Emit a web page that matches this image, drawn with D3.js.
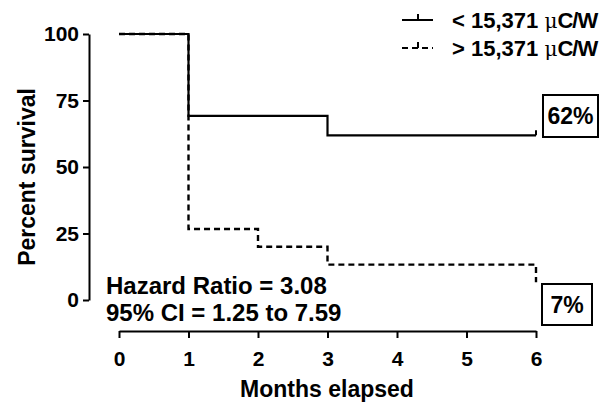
<!DOCTYPE html>
<html>
<head>
<meta charset="utf-8">
<script src="https://cdn.jsdelivr.net/npm/d3@7"></script>
<style>
  body { margin: 0; background: #fff; }
  svg text { font-family: "Liberation Sans", Arial, sans-serif; font-weight: bold; fill: #000; }
</style>
</head>
<body>
<div id="chart"></div>
<script>
// survival data (months, percent)
const lowMonths = [0, 1, 3, 6];
const lowSurvival = [100, 69.2, 61.9, 61.9];
const highMonths = [0, 1, 2, 3, 6];
const highSurvival = [100, 26.7, 20, 13.3, 6.7];
const xTicks = [0, 1, 2, 3, 4, 5, 6];
const yTicks = [0, 25, 50, 75, 100];
const seriesLabels = ["< 15,371 ", "> 15,371 "];
const endLabels = ["62%", "7%"];
const statLines = ["Hazard Ratio = 3.08", "95% CI = 1.25 to 7.59"];

const W = 613, H = 404;
const svg = d3.select("#chart").append("svg").attr("width", W).attr("height", H);

const x = d3.scaleLinear().domain([0, 6]).range([119, 536]);
const y = d3.scaleLinear().domain([0, 100]).range([300, 34]);

// axes
const yAxis = svg.append("g")
    .attr("transform", "translate(89,0)")
    .call(d3.axisLeft(y).tickValues(yTicks).tickSize(6).tickSizeOuter(0).tickPadding(4));
const xAxis = svg.append("g")
    .attr("transform", "translate(0,331)")
    .call(d3.axisBottom(x).tickValues(xTicks).tickFormat(d3.format("d"))
        .tickSize(7).tickSizeOuter(0).tickPadding(8));
[yAxis, xAxis].forEach(a => {
    a.selectAll("path, line").attr("stroke", "#000").attr("stroke-width", 2);
    a.selectAll("text").style("font-size", "21px");
});
xAxis.selectAll("text").attr("dy", "0.95em");

svg.append("text").attr("transform", "translate(35,177) rotate(-90)")
    .attr("text-anchor", "middle").style("font-size", "23px").text("Percent survival");
svg.append("text").attr("x", 327).attr("y", 397)
    .attr("text-anchor", "middle").style("font-size", "23px").text("Months elapsed");

// survival curves
const line = d3.line().x(d => x(d[0])).y(d => y(d[1])).curve(d3.curveStepAfter);
const highData = highMonths.map((m, i) => [m, highSurvival[i]]);
const lowData = lowMonths.map((m, i) => [m, lowSurvival[i]]);

svg.append("path").datum(highData).attr("d", line)
    .attr("fill", "none").attr("stroke", "#000").attr("stroke-width", 2.4)
    .attr("stroke-dasharray", "6,4");
svg.append("path").datum(lowData).attr("d", line)
    .attr("fill", "none").attr("stroke", "#000").attr("stroke-width", 2.2);
// censor tick at the end of the solid curve
svg.append("line")
    .attr("x1", x(6)).attr("x2", x(6))
    .attr("y1", y(lowSurvival[lowSurvival.length - 1])).attr("y2", y(lowSurvival[lowSurvival.length - 1]) - 5)
    .attr("stroke", "#000").attr("stroke-width", 2);

// end value boxes
const boxes = [
    { label: endLabels[0], x: 543, y: 95, w: 55, h: 42 },
    { label: endLabels[1], x: 542, y: 284, w: 50, h: 41 }
];
boxes.forEach(b => {
    svg.append("rect").attr("x", b.x).attr("y", b.y).attr("width", b.w).attr("height", b.h)
        .attr("fill", "#fff").attr("stroke", "#000").attr("stroke-width", 2);
    svg.append("text").attr("x", b.x + b.w / 2).attr("y", b.y + b.h / 2 + 8)
        .attr("text-anchor", "middle").style("font-size", "23px").text(b.label);
});

// statistics
statLines.forEach((s, i) => {
    svg.append("text").attr("x", 106).attr("y", 294 + i * 27)
        .style("font-size", "24px").text(s);
});

// legend
const legend = svg.append("g");
[0, 1].forEach(i => {
    const ly = 20 + i * 28;
    legend.append("line").attr("x1", 402).attr("x2", 433).attr("y1", ly).attr("y2", ly)
        .attr("stroke", "#000").attr("stroke-width", 2)
        .attr("stroke-dasharray", i === 1 ? "6,4" : null);
    legend.append("line").attr("x1", 418).attr("x2", 418).attr("y1", ly).attr("y2", ly - 6)
        .attr("stroke", "#000").attr("stroke-width", 2);
    const t = legend.append("text").attr("x", 452).attr("y", ly + 8).style("font-size", "22px");
    t.append("tspan").text(seriesLabels[i]);
    t.append("tspan").style("font-weight", "normal").style("font-family", "'DejaVu Serif', serif")
        .style("font-size", "20px").text("\u03bc");
    t.append("tspan").attr("letter-spacing", "-1").text("C/W");
});
</script>
</body>
</html>
